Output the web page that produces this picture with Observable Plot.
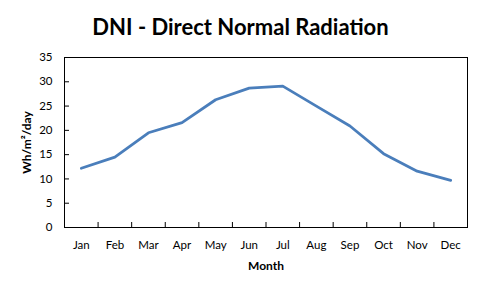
<!DOCTYPE html>
<html><head><meta charset="utf-8">
<script src="https://cdn.jsdelivr.net/npm/d3@7"></script>
<script src="https://cdn.jsdelivr.net/npm/@observablehq/plot@0.6"></script>
<style>
body{margin:0;background:#fff;}
#title{width:497px;height:50px;box-sizing:border-box;padding-right:16px;padding-top:2px;text-align:center;font:bold 22px Lato,sans-serif;line-height:50px;color:#000;}
#chart svg{display:block;}
</style></head><body>
<div id="title">DNI - Direct Normal Radiation</div>
<div id="chart"></div>
<script>
const months = ["Jan","Feb","Mar","Apr","May","Jun","Jul","Aug","Sep","Oct","Nov","Dec"];
const dni = [12.2, 14.5, 19.5, 21.6, 26.3, 28.7, 29.1, 25.0, 20.9, 15.2, 11.6, 9.7];
const yTicks = [0, 5, 10, 15, 20, 25, 30, 35];
const yLabel = "Wh/m²/day";
const xLabel = "Month";

const data = months.map((m, i) => ({i, month: m, value: dni[i]}));
const monthIdx = months.map((m, i) => i);
const boundaries = months.slice(1).map((m, i) => i + 0.5);

const chart = Plot.plot({
  width: 497,
  height: 240,
  marginLeft: 64,
  marginRight: 30,
  marginTop: 7,
  marginBottom: 63,
  style: {fontFamily: "Lato, sans-serif", fontSize: "11.5px", color: "#000", background: "#fff"},
  x: {domain: [-0.5, months.length - 0.5]},
  y: {domain: [0, 35]},
  marks: [
    Plot.frame({stroke: "#000", strokeWidth: 1}),
    Plot.axisY(yTicks, {tickSize: 0, tickPadding: 12, label: yLabel, labelAnchor: "center", labelOffset: 42, labelArrow: "none"}),
    Plot.axisY(yTicks.slice(1, -1), {tickSize: 5, dx: 5, tickFormat: () => "", label: null}),
    Plot.axisX(monthIdx, {tickSize: 0, tickPadding: 13, tickFormat: i => months[i], label: xLabel, labelAnchor: "center", labelOffset: 42, labelArrow: "none"}),
    Plot.axisX(boundaries, {tickSize: 5, dy: -5, tickFormat: () => "", label: null}),
    Plot.line(data, {x: "i", y: "value", stroke: "#4a7ebb", strokeWidth: 2.75})
  ]
});
document.getElementById("chart").appendChild(chart);
// bold axis titles
chart.querySelectorAll("g[aria-label='y-axis label'] text, g[aria-label='x-axis label'] text").forEach(t => {
  t.setAttribute("font-weight", "bold");
  t.setAttribute("font-size", "12px");
});
</script>
</body></html>
